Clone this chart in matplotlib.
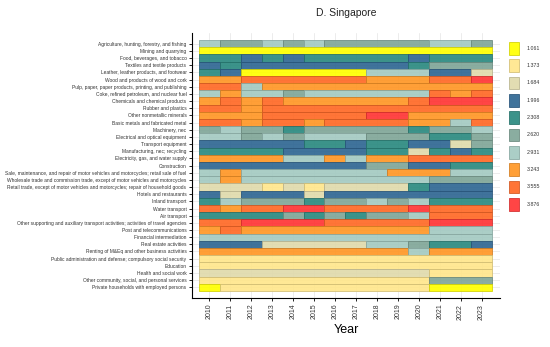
import itertools
import numpy as np
import matplotlib
matplotlib.use("Agg")
import matplotlib.pyplot as plt
import matplotlib.colors as mcolors
from matplotlib.patches import Rectangle

plt.rcParams['font.family'] = ['Liberation Sans', 'DejaVu Sans']

# Color classes of the legend
levels = [1.061, 1.373, 1.684, 1.996, 2.308, 2.620, 2.931, 3.243, 3.555, 3.876]
level_colors = ['#FFFF00', '#FFE68C', '#E0DAAC', '#2F6793', '#2B8A80',
                '#80A698', '#A4CAC2', '#FF9726', '#FF6926', '#FF3535']

years = list(range(2010, 2024))

sectors = [
    "Agriculture, hunting, forestry, and fishing",
    "Mining and quarrying",
    "Food, beverages, and tobacco",
    "Textiles and textile products",
    "Leather, leather products, and footwear",
    "Wood and products of wood and cork",
    "Pulp, paper, paper products, printing, and publishing",
    "Coke, refined petroleum, and nuclear fuel",
    "Chemicals and chemical products",
    "Rubber and plastics",
    "Other nonmetallic minerals",
    "Basic metals and fabricated metal",
    "Machinery, nec",
    "Electrical and optical equipment",
    "Transport equipment",
    "Manufacturing, nec; recycling",
    "Electricity, gas, and water supply",
    "Construction",
    "Sale, maintenance, and repair of motor vehicles and motorcycles; retail sale of fuel",
    "Wholesale trade and commission trade, except of motor vehicles and motorcycles",
    "Retail trade, except of motor vehicles and motorcycles; repair of household goods",
    "Hotels and restaurants",
    "Inland transport",
    "Water transport",
    "Air transport",
    "Other supporting and auxiliary transport activities; activities of travel agencies",
    "Post and telecommunications",
    "Financial intermediation",
    "Real estate activities",
    "Renting of M&Eq and other business activities",
    "Public administration and defense; compulsory social security",
    "Education",
    "Health and social work",
    "Other community, social, and personal services",
    "Private households with employed persons",
]

# class index (into levels) per sector and year, 2010..2023
level_idx = [
    [6, 5, 5, 6, 5, 6, 5, 5, 5, 5, 5, 6, 6, 5],
    [0, 0, 0, 0, 0, 0, 0, 0, 0, 0, 0, 0, 0, 0],
    [4, 4, 3, 4, 3, 4, 4, 4, 4, 4, 3, 4, 4, 4],
    [3, 4, 3, 3, 3, 3, 3, 3, 3, 3, 4, 5, 5, 5],
    [4, 3, 0, 0, 0, 0, 0, 0, 6, 6, 6, 3, 3, 2],
    [7, 7, 8, 8, 8, 8, 8, 8, 7, 7, 7, 8, 8, 9],
    [8, 8, 6, 7, 7, 7, 7, 7, 7, 7, 7, 7, 7, 7],
    [6, 7, 6, 6, 5, 6, 6, 6, 6, 6, 6, 8, 7, 8],
    [7, 8, 7, 8, 7, 7, 7, 7, 7, 7, 8, 9, 9, 9],
    [8, 8, 7, 8, 8, 8, 8, 8, 8, 8, 8, 8, 8, 8],
    [7, 7, 7, 8, 8, 8, 8, 8, 9, 9, 7, 7, 7, 7],
    [8, 8, 7, 8, 8, 7, 8, 8, 8, 8, 7, 7, 6, 8],
    [5, 6, 5, 5, 4, 5, 5, 5, 5, 5, 4, 5, 5, 6],
    [6, 6, 5, 6, 5, 6, 6, 6, 5, 5, 5, 4, 4, 5],
    [3, 3, 3, 3, 3, 4, 4, 3, 4, 4, 3, 3, 2, 5],
    [4, 4, 4, 4, 3, 3, 3, 3, 4, 4, 2, 4, 3, 4],
    [7, 7, 7, 7, 6, 6, 7, 6, 7, 7, 8, 8, 8, 8],
    [3, 3, 3, 3, 3, 3, 3, 3, 5, 5, 3, 3, 4, 4],
    [6, 7, 6, 6, 6, 6, 6, 6, 6, 7, 7, 7, 6, 6],
    [6, 7, 6, 6, 6, 6, 6, 6, 6, 6, 6, 5, 5, 5],
    [2, 2, 2, 1, 2, 1, 2, 2, 2, 2, 4, 3, 3, 3],
    [3, 2, 3, 3, 3, 2, 3, 3, 3, 3, 3, 3, 3, 3],
    [4, 6, 5, 5, 5, 4, 5, 5, 6, 5, 6, 4, 4, 4],
    [8, 7, 8, 8, 9, 9, 8, 8, 8, 8, 9, 8, 8, 8],
    [4, 4, 4, 4, 5, 4, 5, 4, 5, 5, 6, 8, 8, 8],
    [8, 8, 9, 9, 9, 9, 8, 8, 8, 8, 8, 9, 9, 9],
    [7, 8, 7, 7, 7, 7, 7, 7, 7, 7, 7, 6, 6, 6],
    [6, 6, 6, 6, 6, 6, 6, 6, 6, 6, 6, 6, 6, 6],
    [3, 3, 3, 2, 2, 2, 2, 2, 6, 6, 5, 4, 4, 3],
    [7, 7, 7, 7, 7, 7, 7, 7, 7, 7, 6, 7, 7, 7],
    [1, 1, 1, 1, 1, 1, 1, 1, 1, 1, 1, 1, 1, 1],
    [1, 1, 1, 1, 1, 1, 1, 1, 1, 1, 1, 1, 1, 1],
    [2, 2, 2, 2, 2, 2, 2, 2, 2, 2, 2, 1, 1, 1],
    [1, 1, 1, 1, 1, 1, 1, 1, 1, 1, 1, 5, 5, 5],
    [0, 1, 1, 1, 1, 1, 1, 1, 1, 1, 1, 0, 0, 0],
]


def darker(c, f=0.82):
    r, g, b = mcolors.to_rgb(c)
    return (r * f, g * f, b * f)


fig = plt.figure(figsize=(5.5, 3.47), dpi=100)
ax = fig.add_axes([0.349, 0.141, 0.56, 0.764])

# light grid behind the tiles
for yr in years:
    ax.axvline(yr, color='#e4e4e4', lw=0.5, zorder=0)
for i in range(len(sectors)):
    ax.axhline(i, color='#e4e4e4', lw=0.5, zorder=0)

# draw runs of equal class in each row as one tile
for i, row in enumerate(level_idx):
    pos = 0
    for code, grp in itertools.groupby(row):
        n = len(list(grp))
        ax.barh(i, n, left=years[pos] - 0.5, height=1,
                color=level_colors[code], edgecolor=darker(level_colors[code]),
                linewidth=0.6, alpha=0.92, zorder=2)
        pos += n

ax.set_xlim(years[0] - 0.83, years[-1] + 0.88)
ax.set_ylim(len(sectors) - 0.5 + 1.0, -1.5)

ax.set_xticks(years)
ax.set_xticklabels([str(y) for y in years], rotation=90, fontsize=5, color='#333333')
ax.set_yticks(range(len(sectors)))
ax.set_yticklabels(sectors, fontsize=3.5, color='#333333')
ax.tick_params(axis='both', length=2.5, width=0.6, pad=1.5)

ax.spines['top'].set_visible(False)
ax.spines['right'].set_visible(False)
ax.spines['left'].set_linewidth(0.8)
ax.spines['bottom'].set_linewidth(0.8)

ax.set_xlabel('Year', fontsize=9, labelpad=3)
ax.set_title('D. Singapore', fontsize=7.5, color='#222222', pad=12)

# legend drawn in figure pixels
W, H = 550, 347
y0, dy = 48.3, 17.33
for k, (val, col) in enumerate(zip(levels, level_colors)):
    yc = y0 + k * dy
    fig.patches.append(Rectangle((509 / W, (H - yc - 6.3) / H), 10 / W, 12.6 / H,
                                 transform=fig.transFigure, facecolor=col,
                                 edgecolor=darker(col), linewidth=0.6, alpha=0.92))
    fig.text(527 / W, (H - yc) / H, f"{val:.3f}", fontsize=3.8,
             va='center', ha='left', color='#333333')

fig.savefig('out.png', dpi=100)
